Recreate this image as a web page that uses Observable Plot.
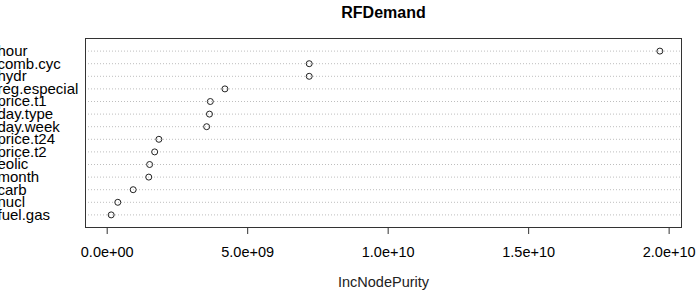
<!DOCTYPE html>
<html>
<head>
<meta charset="utf-8">
<script src="https://cdn.jsdelivr.net/npm/d3@7"></script>
<script src="https://cdn.jsdelivr.net/npm/@observablehq/plot@0.6"></script>
<style>
  html, body { margin: 0; padding: 0; background: white; }
  svg { display: block; }
</style>
</head>
<body>
<div id="chart"></div>
<script>
const labels = ["hour","comb.cyc","hydr","reg.especial","price.t1","day.type","day.week","price.t24","price.t2","eolic","month","carb","nucl","fuel.gas"];
const purity = [1.967e10, 7.19e9, 7.19e9, 4.19e9, 3.67e9, 3.64e9, 3.54e9, 1.84e9, 1.69e9, 1.51e9, 1.48e9, 0.925e9, 0.377e9, 0.142e9];
const xTicks = [0, 5e9, 1e10, 1.5e10, 2e10];
const title = "RFDemand";
const xTitle = "IncNodePurity";

const data = labels.map((l, i) => ({label: l, value: purity[i]}));
const fmt = d => {
  const s = d.toExponential(1);
  const [m, e] = s.split("e");
  const sign = e[0];
  const digits = e.slice(1).padStart(2, "0");
  return `${m}e${sign}${digits}`;
};

const chart = Plot.plot({
  width: 699,
  height: 290,
  marginLeft: 85,
  marginRight: 18,
  marginTop: 38,
  marginBottom: 63,
  style: {fontFamily: "'Liberation Sans', Arial, sans-serif", fontSize: "14.5px", background: "white", color: "black"},
  x: {domain: [-0.772e9, 2.044e10], axis: null},
  y: {type: "point", domain: labels, padding: 1, round: false, axis: null},
  marks: [
    Plot.ruleY(labels, {y: d => d, stroke: "#bebebe", strokeDasharray: "1,2"}),
    Plot.frame({stroke: "#333"}),
    Plot.dot(data, {x: "value", y: "label", r: 3, stroke: "#222", fill: "none", strokeWidth: 1}),
    Plot.text(labels, {y: d => d, text: d => d, frameAnchor: "left", dx: -88, textAnchor: "start", fontSize: 15, fill: "black"}),
    Plot.axisX({ticks: xTicks, tickFormat: fmt, tickSize: 7, tickPadding: 12, fontSize: 14.5, label: null, stroke: "#333"}),
    Plot.text([xTitle], {text: d => d, frameAnchor: "bottom", dy: 59, fontSize: 14.5, fill: "#222"}),
    Plot.text([title], {text: d => d, frameAnchor: "top", dy: -32, fontWeight: "bold", fontSize: 16, fill: "black"})
  ]
});
document.getElementById("chart").appendChild(chart);
</script>
</body>
</html>
